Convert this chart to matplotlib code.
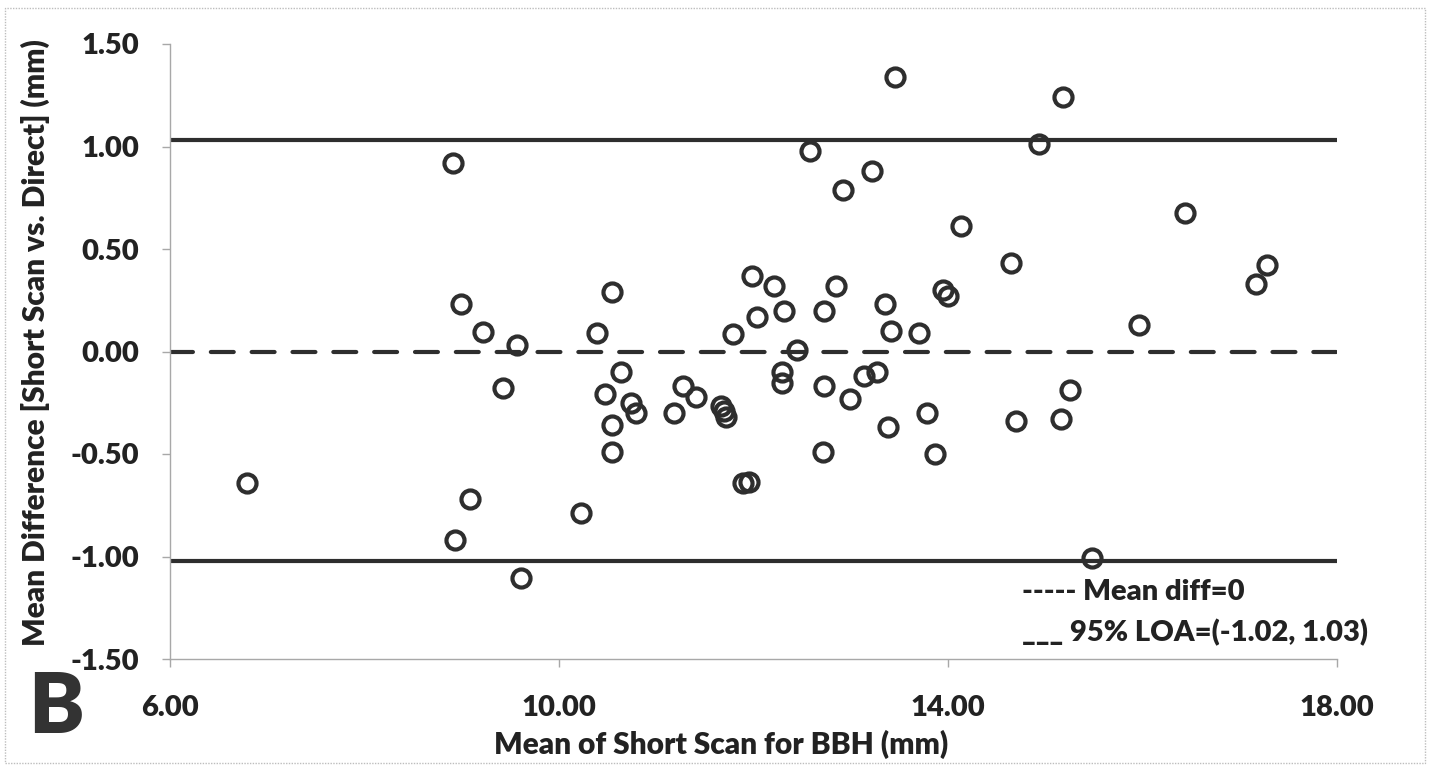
import matplotlib
matplotlib.use("Agg")
import matplotlib.pyplot as plt
from matplotlib.patches import Rectangle

plt.rcParams['font.family'] = ['Lato', 'DejaVu Sans']

# Bland-Altman data: mean of short scan (x) vs mean difference (y)
mean_short_scan = [6.79, 8.91, 8.99, 9.08, 8.93, 9.22, 9.42, 9.57, 9.61, 10.23,
                   10.39, 10.47, 10.54, 10.55, 10.55, 10.64, 10.74, 10.79, 11.18, 11.27,
                   11.41, 11.67, 11.70, 11.72, 11.79, 11.89, 11.95, 11.98, 12.04, 12.21,
                   12.29, 12.29, 12.31, 12.45, 12.58, 12.72, 12.72, 12.71, 12.85, 12.92,
                   12.99, 13.14, 13.22, 13.27, 13.35, 13.38, 13.41, 13.46, 13.70, 13.78,
                   13.87, 13.95, 14.00, 14.13, 14.65, 14.70, 14.94, 15.16, 15.18, 15.25,
                   15.48, 15.96, 16.44, 17.17, 17.28]
mean_difference = [-0.64, 0.92, 0.23, -0.72, -0.92, 0.094, -0.18, 0.03, -1.105, -0.79,
                   0.09, -0.205, 0.29, -0.36, -0.49, -0.10, -0.25, -0.30, -0.30, -0.17,
                   -0.22, -0.265, -0.29, -0.32, 0.085, -0.64, -0.635, 0.37, 0.17, 0.32,
                   -0.10, -0.155, 0.20, 0.005, 0.98, 0.20, -0.17, -0.49, 0.32, 0.79,
                   -0.23, -0.12, 0.88, -0.10, 0.23, -0.37, 0.10, 1.34, 0.09, -0.30,
                   -0.50, 0.30, 0.27, 0.61, 0.43, -0.34, 1.01, -0.33, 1.24, -0.19,
                   -1.005, 0.13, 0.675, 0.33, 0.42]

mean_diff_line = 0.0
loa_lower = -1.02
loa_upper = 1.03

x_ticks = [6, 10, 14, 18]
y_ticks = [-1.5, -1.0, -0.5, 0.0, 0.5, 1.0, 1.5]

dark = '#2e2e2e'
txt = '#222222'

fig = plt.figure(figsize=(14.32, 7.67), dpi=100)
ax = fig.add_axes([170/1432, 1 - 659/767, (1337-170)/1432, (659-44)/767])

ax.plot([6, 18], [loa_upper, loa_upper], color=dark, lw=3.0, solid_capstyle='butt', zorder=2)
ax.plot([6, 18], [loa_lower, loa_lower], color=dark, lw=3.0, solid_capstyle='butt', zorder=2)
ax.plot([6, 18], [mean_diff_line, mean_diff_line], color=dark, lw=3.0,
        dashes=(5.5, 4.3), dash_capstyle='round', zorder=2)

ax.plot(mean_short_scan, mean_difference, linestyle='none', marker='o',
        markersize=13, markerfacecolor='none', markeredgecolor=dark,
        markeredgewidth=3.0, zorder=3)

ax.set_xlim(6, 18)
ax.set_ylim(-1.5, 1.5)
ax.set_xticks(x_ticks)
ax.set_xticklabels([f"{v:.2f}" for v in x_ticks])
ax.set_yticks(y_ticks)
ax.set_yticklabels([f"{v:.2f}" for v in y_ticks])

for s in ['top', 'right']:
    ax.spines[s].set_visible(False)
for s in ['left', 'bottom']:
    ax.spines[s].set_color('#a8a8a8')
    ax.spines[s].set_linewidth(1.0)

ax.tick_params(axis='both', direction='out', length=6, width=1.0, color='#a8a8a8',
               labelsize=21, labelcolor=txt)
ax.tick_params(axis='y', pad=16)
ax.tick_params(axis='x', pad=20)
for lab in ax.get_xticklabels() + ax.get_yticklabels():
    lab.set_fontweight('heavy')

ax.set_xlabel("Mean of Short Scan for BBH (mm)", fontsize=21.5, fontweight='heavy',
              color=txt)
ax.xaxis.set_label_coords(0.472, -0.115)
ax.set_ylabel("Mean Difference [Short Scan vs. Direct] (mm)", fontsize=21.5,
              fontweight='heavy', color=txt)
ax.yaxis.set_label_coords(-0.103, 0.515)

fig.text(1022/1432, 1 - 592/767, "----- Mean diff=0", fontsize=21, fontweight='heavy',
         color=txt, ha='left', va='center')
fig.text(1022/1432, 1 - 633/767, "___ 95% LOA=(-1.02, 1.03)", fontsize=21,
         fontweight='heavy', color=txt, ha='left', va='center')

fig.text(28/1432, 1 - 733/767, "B", fontsize=60, fontweight='heavy', color='#333333',
         ha='left', va='baseline')

fig.patches.append(Rectangle((5/1432, 0.005), 1420/1432, 1 - 8/767 - 0.005,
                             transform=fig.transFigure, fill=False,
                             edgecolor='#bdbdbd', lw=1.0, linestyle=(0, (1, 1))))

fig.savefig("out.png", dpi=100)
